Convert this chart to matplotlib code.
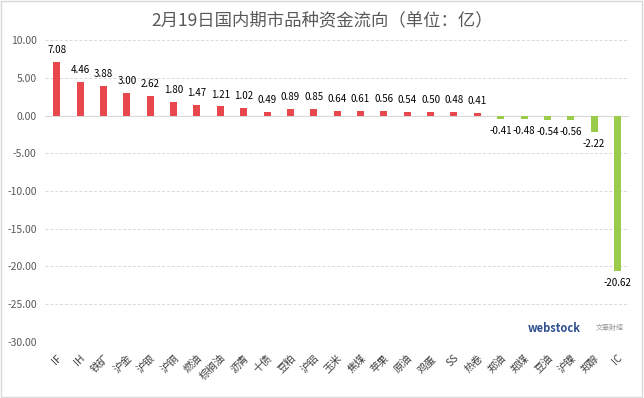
import numpy as np
import matplotlib.pyplot as plt
from matplotlib.patches import Rectangle

plt.rcParams['font.family'] = ['Noto Sans CJK SC', 'DejaVu Sans']

# 品种与资金流向（亿）
names = ['IF', 'IH', '铁矿', '沪金', '沪银', '沪铜', '燃油', '棕榈油', '沥青', '十债',
         '豆粕', '沪铝', '玉米', '焦煤', '苹果', '原油', '鸡蛋', 'SS', '热卷', '郑油',
         '郑煤', '豆油', '沪镍', '郑醇', 'IC']
flows = [7.08, 4.46, 3.88, 3.00, 2.62, 1.80, 1.47, 1.21, 1.02, 0.49,
         0.89, 0.85, 0.64, 0.61, 0.56, 0.54, 0.50, 0.48, 0.41, -0.41,
         -0.48, -0.54, -0.56, -2.22, -20.62]
yticks = np.arange(-30, 11, 5)

fig = plt.figure(figsize=(6.44, 3.98), dpi=100)
ax = fig.add_axes([0.070, 0.141, 0.907, 0.758])

x = np.arange(len(names))
colors = ['#E8474B' if v >= 0 else '#9BCB4A' for v in flows]
ax.bar(x, flows, width=0.3, color=colors, zorder=3)

# 数据标签
for xi, v in zip(x, flows):
    if v >= 0:
        ax.annotate(f'{v:.2f}', (xi, v), xytext=(0, 5), textcoords='offset points',
                    ha='center', va='bottom', fontsize=7, color='black')
    else:
        ax.annotate(f'{v:.2f}', (xi, v), xytext=(0, -5), textcoords='offset points',
                    ha='center', va='top', fontsize=7, color='black')

ax.set_ylim(-30, 10)
ax.set_xlim(-0.5, len(names) - 0.5)
ax.set_yticks(yticks)
ax.set_yticklabels([f'{t:.2f}' for t in yticks], fontsize=7.5, color='#595959')
ax.set_xticks(x)
ax.set_xticklabels(names, rotation=45, ha='right', va='top', fontsize=7.5,
                   color='#404040', rotation_mode='anchor')
ax.tick_params(length=0, pad=6)
ax.tick_params(axis='x', pad=8)
ax.grid(axis='y', linestyle=(0, (3, 2)), color='#D9D9D9', linewidth=0.7, zorder=0)
for s in ax.spines.values():
    s.set_visible(False)
ax.axhline(0, color='#D9D9D9', linewidth=0.8, zorder=2)

fig.text(0.5, 0.95, '2月19日国内期市品种资金流向（单位：亿）', ha='center', va='center',
         fontsize=12.5, color='#595959')

# 水印
fig.text(0.82, 0.175, 'webstock', fontsize=8, color='#2F4F8F', fontweight='bold',
         ha='left', va='center')
fig.text(0.925, 0.175, '文華財經', fontsize=5, color='#999999', ha='left', va='center')

# 外边框
fig.patches.append(Rectangle((0.002, 0.003), 0.995, 0.994, transform=fig.transFigure,
                             fill=False, edgecolor='#D9D9D9', linewidth=1))

fig.savefig('out.png', dpi=100)
